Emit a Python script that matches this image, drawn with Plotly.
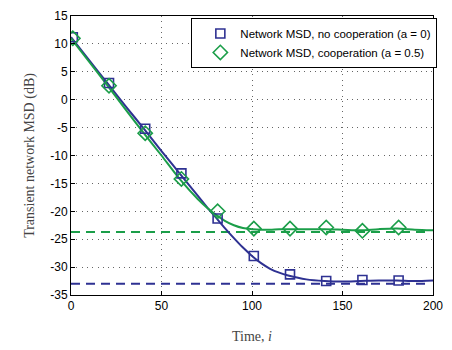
import plotly.graph_objects as go

# curve samples (time index, dB)
t_curve = [0, 10, 20, 30, 40, 50, 60, 70, 75, 80, 85, 90, 95, 100, 105, 110, 115, 120, 130, 140, 150, 160, 170, 180, 190, 200]
blue_curve = [11.2, 7.1, 3.0, -1.1, -5.1, -9.2, -13.2, -17.2, -19.2, -21.1, -23.0, -24.8, -26.5, -28.0, -29.3, -30.3, -31.0, -31.5, -32.2, -32.5, -32.6, -32.5, -32.4, -32.4, -32.5, -32.4]
green_curve = [11.0, 6.8, 2.6, -1.7, -5.9, -10.0, -14.2, -17.8, -19.3, -20.6, -21.7, -22.5, -23.0, -23.2, -23.3, -23.3, -23.2, -23.2, -23.2, -23.2, -23.3, -23.4, -23.2, -23.1, -23.3, -23.4]

# marker samples
t_mark = [1, 21, 41, 61, 81, 101, 121, 141, 161, 181]
blue_mark = [11.2, 3.0, -5.2, -13.2, -21.3, -28.0, -31.3, -32.5, -32.3, -32.4]
green_mark = [11.0, 2.5, -6.0, -14.2, -20.0, -23.1, -23.1, -22.9, -23.5, -22.9]

# steady-state theory levels
blue_ss = -33.0
green_ss = -23.7
ss_x = [0, 197]

BLUE = "#2E3192"
GREEN = "#1B9E49"

fig = go.Figure()
fig.add_trace(go.Scatter(x=ss_x, y=[green_ss, green_ss], mode="lines",
                         line=dict(color=GREEN, width=2, dash="9px,6px"), showlegend=False))
fig.add_trace(go.Scatter(x=ss_x, y=[blue_ss, blue_ss], mode="lines",
                         line=dict(color=BLUE, width=2, dash="9px,6px"), showlegend=False))
fig.add_trace(go.Scatter(x=t_curve, y=blue_curve, mode="lines", line=dict(color=BLUE, width=2, shape="spline", smoothing=0.8),
                         showlegend=False))
fig.add_trace(go.Scatter(x=t_curve, y=green_curve, mode="lines", line=dict(color=GREEN, width=2, shape="spline", smoothing=0.8),
                         showlegend=False))
fig.add_trace(go.Scatter(x=t_mark, y=blue_mark, mode="markers",
                         marker=dict(symbol="square-open", size=9, color=BLUE, line=dict(width=1.6, color=BLUE)),
                         name="Network MSD, no cooperation (a = 0)"))
fig.add_trace(go.Scatter(x=t_mark, y=green_mark, mode="markers",
                         marker=dict(symbol="diamond-open", size=11, color=GREEN, line=dict(width=1.6, color=GREEN)),
                         name="Network MSD, cooperation (a = 0.5)"))

axis_common = dict(showline=True, linecolor="black", linewidth=1, mirror=True,
                   ticks="inside", ticklen=4, tickcolor="black",
                   showgrid=True, gridcolor="#666666", griddash="1px,4.3px", gridwidth=1,
                   zeroline=False, tickfont=dict(family="Liberation Sans", size=12, color="black"))

fig.update_layout(
    width=452, height=350,
    margin=dict(l=71, r=12, t=9, b=51),
    plot_bgcolor="white", paper_bgcolor="white",
    xaxis=dict(range=[0, 200], tickvals=[0, 50, 100, 150, 200],
               title=dict(text="Time, <i>i</i>", font=dict(family="Liberation Serif", size=14, color="#444444"), standoff=18),
               **axis_common),
    yaxis=dict(range=[-35, 15], tickvals=[15, 10, 5, 0, -5, -10, -15, -20, -25, -30, -35],
               ticktext=["15", "10", "5", "0", "-5", "-10", "-15", "-20", "-25", "-30", "-35"],
               title=dict(text="Transient network MSD (dB)", font=dict(family="Liberation Serif", size=14, color="#444444"), standoff=12),
               **axis_common),
    legend=dict(x=1.012, y=0.993, xanchor="right", yanchor="top",
                bgcolor="white", bordercolor="black", borderwidth=1,
                font=dict(family="Liberation Sans", size=11.5, color="black"),
                tracegroupgap=0, itemwidth=30, indentation=8),
)

fig.write_html("out.html")
